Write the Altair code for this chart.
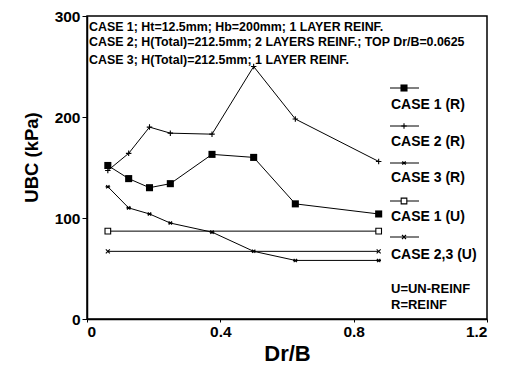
import altair as alt
import pandas as pd

# ---- data ----
dr_b = [0.0625, 0.125, 0.1875, 0.25, 0.375, 0.5, 0.625, 0.875]
case1_r = [152, 139, 130, 134, 163, 160, 114, 104]
case2_r = [147, 164, 190, 184, 183, 250, 198, 156]
case3_r = [131, 110, 104, 95, 86, 67, 58, 58]
dr_b_u = [0.0625, 0.875]
case1_u = [87, 87]
case23_u = [67, 67]

series_names = ["CASE 1 (R)", "CASE 2 (R)", "CASE 3 (R)", "CASE 1 (U)", "CASE 2,3 (U)"]
notes = [
    "CASE 1; Ht=12.5mm; Hb=200mm; 1 LAYER REINF.",
    "CASE 2; H(Total)=212.5mm; 2 LAYERS REINF.; TOP Dr/B=0.0625",
    "CASE 3; H(Total)=212.5mm; 1 LAYER REINF.",
]
abbrev = ["U=UN-REINF", "R=REINF"]

FONT = "Liberation Sans"
PLUS = "M-1,0L1,0M0,-1L0,1"
STAR = "M-1,0L1,0M-0.7,-0.7L0.7,0.7M-0.7,0.7L0.7,-0.7"
XSHAPE = "M-1,-1L1,1M-1,1L1,-1"

styles = {
    "CASE 1 (R)": dict(shape="square", filled=True, size=50),
    "CASE 2 (R)": dict(shape=PLUS, filled=False, size=30),
    "CASE 3 (R)": dict(shape=STAR, filled=False, size=22),
    "CASE 1 (U)": dict(shape="square", filled=False, size=32),
    "CASE 2,3 (U)": dict(shape=XSHAPE, filled=False, size=16),
}

frames = {
    "CASE 1 (R)": pd.DataFrame({"x": dr_b, "y": case1_r}),
    "CASE 2 (R)": pd.DataFrame({"x": dr_b, "y": case2_r}),
    "CASE 3 (R)": pd.DataFrame({"x": dr_b, "y": case3_r}),
    "CASE 1 (U)": pd.DataFrame({"x": dr_b_u, "y": case1_u}),
    "CASE 2,3 (U)": pd.DataFrame({"x": dr_b_u, "y": case23_u}),
}

xscale = alt.Scale(domain=[0, 1.2], nice=False)
yscale = alt.Scale(domain=[0, 300], nice=False)
xenc = alt.X("x:Q", scale=xscale, title="Dr/B",
             axis=alt.Axis(values=[0, 0.4, 0.8, 1.2], format=".1~f", grid=False,
                           tickSize=3, labelPadding=2, titlePadding=4,
                           labelFontSize=15.5, titleFontSize=22))
yenc = alt.Y("y:Q", scale=yscale, title="UBC (kPa)",
             axis=alt.Axis(values=[0, 100, 200, 300], grid=False, tickSize=5,
                           labelPadding=2, titlePadding=13, titleY=141,
                           labelFontSize=15.5, titleFontSize=18.5))

layers = []
for name, df in frames.items():
    st = styles[name]
    base = alt.Chart(df)
    layers.append(base.mark_line(color="black", strokeWidth=1).encode(x=xenc, y=yenc))
    layers.append(base.mark_point(shape=st["shape"], filled=st["filled"], size=st["size"],
                                  color="black", strokeWidth=1.1, opacity=1,
                                  fill="black" if st["filled"] else "white")
                  .encode(x=xenc, y=yenc))

# notes at top-left
note_y = [11, 25.5, 44]
for t, yy in zip(notes, note_y):
    layers.append(alt.Chart(pd.DataFrame({"t": [t]})).mark_text(
        align="left", baseline="middle", font=FONT, fontWeight="bold", fontSize=12.4,
        color="black").encode(x=alt.value(2), y=alt.value(yy), text="t:N"))

# custom legend
sym_y = [72, 110, 147, 185, 221]
lab_y = [89, 126, 162, 201, 239]
for name, sy, ly in zip(series_names, sym_y, lab_y):
    st = styles[name]
    layers.append(alt.Chart(pd.DataFrame({"n": [name]})).mark_rule(color="black", strokeWidth=1)
                  .encode(x=alt.value(303), x2=alt.value(332), y=alt.value(sy)))
    layers.append(alt.Chart(pd.DataFrame({"n": [name]})).mark_point(
        shape=st["shape"], filled=st["filled"], size=st["size"], color="black",
        strokeWidth=1.1, opacity=1, fill="black" if st["filled"] else "white")
        .encode(x=alt.value(317), y=alt.value(sy)))
    layers.append(alt.Chart(pd.DataFrame({"n": [name]})).mark_text(
        align="left", baseline="middle", font=FONT, fontWeight="bold", fontSize=14,
        color="black").encode(x=alt.value(304), y=alt.value(ly), text="n:N"))

for t, yy in zip(abbrev, [273, 289]):
    layers.append(alt.Chart(pd.DataFrame({"t": [t]})).mark_text(
        align="left", baseline="middle", font=FONT, fontWeight="bold", fontSize=13,
        color="black").encode(x=alt.value(304), y=alt.value(yy), text="t:N"))

chart = alt.layer(*layers).properties(
    width=400, height=303,
    autosize=alt.AutoSizeParams(type="none"),
    padding={"left": 87, "top": 16, "right": 24, "bottom": 47},
    background="white",
).configure_view(stroke="black", strokeWidth=1.5).configure_axis(
    domainColor="black", domainWidth=1.5, tickColor="black", labelColor="black",
    titleColor="black", labelFont=FONT, titleFont=FONT, labelFontWeight="bold",
    titleFontWeight="bold",
)

chart.save("out.html", embed_options={"renderer": "svg", "actions": False})
